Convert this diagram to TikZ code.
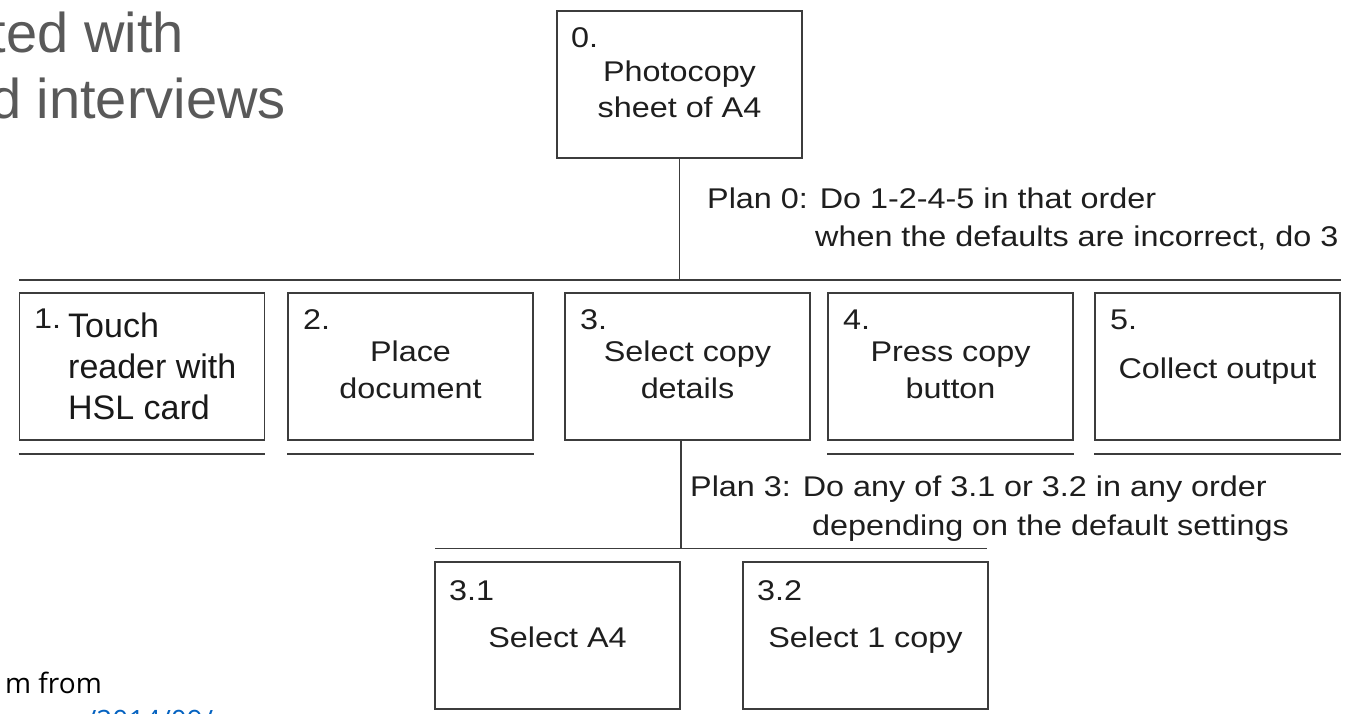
\documentclass[tikz,border=0pt]{standalone}
\usepackage{fontspec}
\setmainfont{Liberation Sans}
\newfontfamily\dgfont[FakeStretch=1.135]{Liberation Sans}
\newfontfamily\osfont{Open Sans}
\definecolor{lc}{RGB}{60,60,60}
\definecolor{tc}{RGB}{30,30,30}
\definecolor{titlegray}{RGB}{89,89,89}
\definecolor{linkblue}{RGB}{5,99,193}
\begin{document}
\begin{tikzpicture}[x=1pt,y=-1pt,
  box/.style={draw=lc, line width=1.8pt, minimum width=245pt, minimum height=147pt, inner sep=0pt},
  conn/.style={draw=lc, line width=1.8pt},
  num/.style={font=\dgfont\fontsize{28.5}{34}\selectfont, text=tc, anchor=base west, inner sep=0pt},
  lbl/.style={font=\dgfont\fontsize{28.5}{34}\selectfont, text=tc, anchor=base, inner sep=0pt},
  plan/.style={font=\dgfont\fontsize{28.5}{34}\selectfont, text=tc, anchor=base west, inner sep=0pt},
  over/.style={font=\fontsize{34}{41}\selectfont, text=black!90, anchor=base west, inner sep=0pt},
  title/.style={font=\fontsize{56}{66}\selectfont, text=titlegray, anchor=base east, inner sep=0pt}]
\useasboundingbox (0,0) rectangle (1363,713);
\clip (0,0) rectangle (1363,713);
\fill[white] (0,0) rectangle (1363,713);

% slide text
\node[title] (ti1) at (184,52) {ted with};
\node[title] (ti2) at (286,118) {d interviews};
\node[font=\osfont\fontsize{28}{34}\selectfont, anchor=base east, inner sep=0pt] (src) at (102,693) {m from};
\node[font=\osfont\fontsize{28}{34}\selectfont, text=linkblue, anchor=base west, inner sep=0pt] (lnk) at (86,730) {/2014/09/};

% boxes
\node[box] (b0) at (679.5,84.5) {};
\node[box] (b1) at (142,366.5) {};
\node[box] (b2) at (410.5,366.5) {};
\node[box] (b3) at (687.5,366.5) {};
\node[box] (b4) at (950.5,366.5) {};
\node[box] (b5) at (1217.5,366.5) {};
\node[box] (b31) at (557.5,635.5) {};
\node[box] (b32) at (865.5,635.5) {};

% connectors
\coordinate (h0L) at (19,280);
\coordinate (h0R) at (1341,280);
\draw[conn] (h0L) -- (h0R);
\draw[conn] (b0.south) -- (b0.south |- h0L);
\coordinate (h3L) at (435,548.5);
\coordinate (h3R) at (987,548.5);
\draw[conn] (h3L) -- (h3R);
\draw[conn] (b31.east |- b3.south) -- (b31.east |- h3L);

% underlines (no decomposition)
\foreach \b in {b1,b2,b4,b5}{
  \draw[conn] ([yshift=-13pt]\b.south west) -- ([yshift=-13pt]\b.south east);
}

% box texts
\node[num] (n0) at (571,47) {0.};
\node[lbl] (t0a) at (679.5,81) {Photocopy};
\node[lbl] (t0b) at (679.5,117) {sheet of A4};

\node[num] (n1) at (34,328) {1.};
\node[over] (t1a) at (68,337) {Touch};
\node[over] (t1b) at (68,378) {reader with};
\node[over] (t1c) at (68,419) {HSL card};

\node[num] (n2) at (303,329) {2.};
\node[lbl] (t2a) at (410.5,361) {Place};
\node[lbl] (t2b) at (410.5,398) {document};

\node[num] (n3) at (580,329) {3.};
\node[lbl] (t3a) at (687.5,361) {Select copy};
\node[lbl] (t3b) at (687.5,398) {details};

\node[num] (n4) at (843,329) {4.};
\node[lbl] (t4a) at (950.5,361) {Press copy};
\node[lbl] (t4b) at (950.5,398) {button};

\node[num] (n5) at (1110,329) {5.};
\node[lbl] (t5a) at (1217.5,378) {Collect output};

\node[num] (n31) at (449,600) {3.1};
\node[lbl] (t31) at (557.5,647) {Select A4};
\node[num] (n32) at (757,600) {3.2};
\node[lbl] (t32) at (865.5,647) {Select 1 copy};

% plans
\node[plan] (p0a) at (707,208) {Plan 0: Do 1-2-4-5 in that order};
\node[plan] (p0b) at (815,246) {when the defaults are incorrect, do 3};
\node[plan] (p3a) at (690,496) {Plan 3: Do any of 3.1 or 3.2 in any order};
\node[plan] (p3b) at (812,535) {depending on the default settings};
\end{tikzpicture}
\end{document}
